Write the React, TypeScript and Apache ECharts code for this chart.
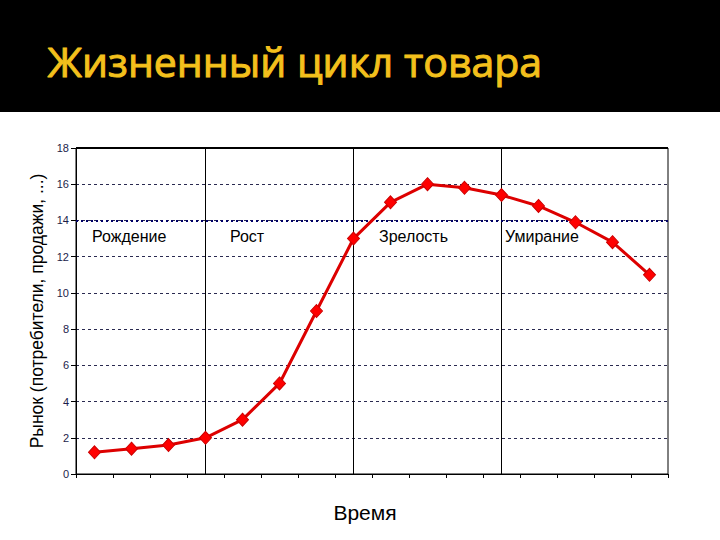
import React, { useEffect, useRef } from "react";
import * as echarts from "echarts";

const titleText = "Жизненный цикл товара";
const categories = ["1", "2", "3", "4", "5", "6", "7", "8", "9", "10", "11", "12", "13", "14", "15", "16"];
const marketValues = [1.2, 1.4, 1.6, 2.0, 3.0, 5.0, 9.0, 13.0, 15.0, 16.0, 15.8, 15.4, 14.8, 13.9, 12.8, 11.0];
const phaseBoundaries = ["4", "8", "12"];
const phaseLabels = ["Рождение", "Рост", "Зрелость", "Умирание"];
const yAxisName = "Рынок (потребители, продажи, ...)";
const xAxisName = "Время";

export default function App() {
  const ref = useRef<HTMLDivElement>(null);

  useEffect(() => {
    document.body.style.margin = "0";
    const chart = echarts.init(ref.current!, null, { renderer: "svg" });
    const phaseX = [92, 230, 379, 505];
    chart.setOption({
      animation: false,
      backgroundColor: "#ffffff",
      graphic: [
        {
          type: "rect",
          left: 0,
          top: 0,
          shape: { width: 720, height: 112 },
          style: { fill: "#000000" },
          z: 0,
        },
        {
          type: "text",
          left: 47,
          top: 40,
          style: {
            text: titleText,
            fill: "#f3c01c",
            stroke: "#f3c01c",
            lineWidth: 1,
            font: "normal 41px 'Open Sans', sans-serif",
          },
          z: 10,
        },
        ...phaseLabels.map((t, i) => ({
          type: "text",
          left: phaseX[i],
          top: 228,
          style: {
            text: t,
            fill: "#000000",
            font: "16px 'Liberation Sans', Arial, sans-serif",
          },
          z: 10,
        })),
      ],
      grid: {
        left: 76,
        right: 52,
        top: 148,
        bottom: 66,
        show: true,
        borderColor: "#000000",
        borderWidth: 1,
        backgroundColor: "#ffffff",
      },
      xAxis: {
        type: "category",
        data: categories,
        boundaryGap: true,
        name: xAxisName,
        nameLocation: "middle",
        nameGap: 28,
        nameTextStyle: {
          fontFamily: "'Liberation Sans', Arial, sans-serif",
          fontSize: 21,
          color: "#000000",
          padding: [0, 14, 0, 0],
        },
        axisLine: { lineStyle: { color: "#000000", width: 1 } },
        axisTick: { show: true, length: 4, lineStyle: { color: "#000000" } },
        axisLabel: { show: false },
        splitLine: { show: false },
      },
      yAxis: {
        type: "value",
        min: 0,
        max: 18,
        interval: 2,
        name: yAxisName,
        nameLocation: "middle",
        nameGap: 30,
        nameTextStyle: {
          fontFamily: "'Liberation Sans', Arial, sans-serif",
          fontSize: 17.5,
          color: "#000000",
        },
        axisLine: { show: true, lineStyle: { color: "#000000", width: 1 } },
        axisTick: { show: true, length: 5, lineStyle: { color: "#000000" } },
        axisLabel: {
          fontFamily: "'Liberation Sans', Arial, sans-serif",
          fontSize: 11,
          color: "#1c1c4a",
          margin: 7,
        },
        splitLine: {
          show: true,
          lineStyle: { color: "#2a2a50", width: 1, type: [3, 3] },
        },
      },
      series: [
        {
          type: "line",
          data: marketValues,
          symbol: "diamond",
          symbolSize: [12, 13],
          lineStyle: { color: "#dd0000", width: 3 },
          itemStyle: { color: "#ff0000", borderColor: "#cc0000", borderWidth: 1 },
          z: 5,
          markLine: {
            silent: true,
            symbol: "none",
            label: { show: false },
            animation: false,
            data: [
              ...phaseBoundaries.map((c) => ({
                xAxis: c,
                lineStyle: { color: "#000000", width: 1, type: "solid" },
              })),
              { yAxis: 14, lineStyle: { color: "#000066", width: 2, type: [2, 3] } },
              { yAxis: 18, lineStyle: { color: "#000000", width: 2, type: "solid" } },
            ],
          },
        },
      ],
    });
    return () => chart.dispose();
  }, []);

  return (
    <div
      ref={ref}
      style={{ position: "absolute", left: 0, top: 0, width: 720, height: 540 }}
    />
  );
}
